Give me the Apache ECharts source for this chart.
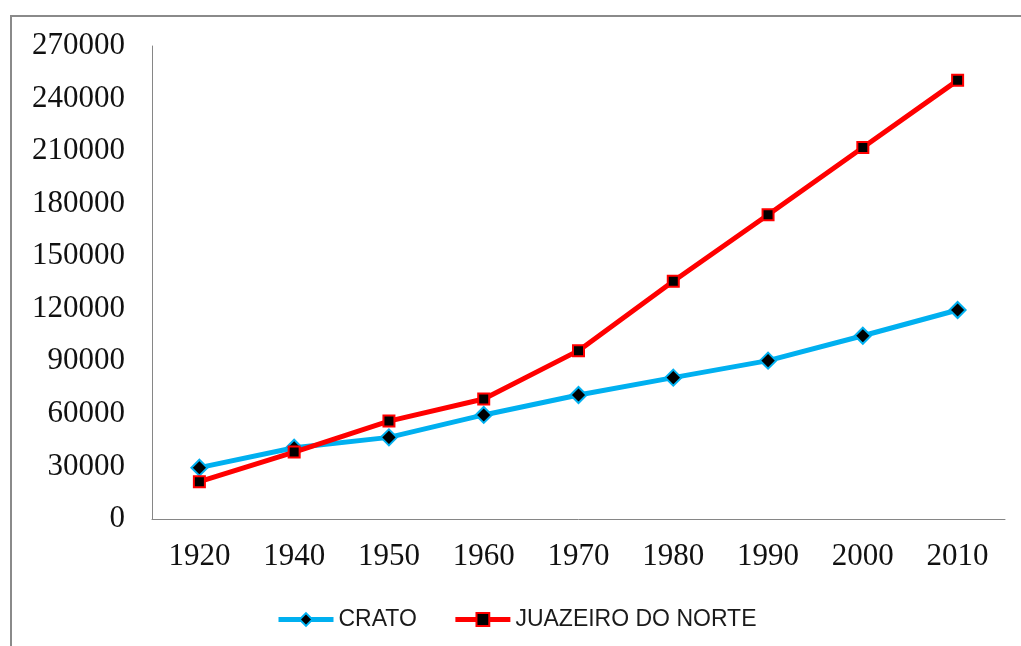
<!DOCTYPE html>
<html><head><meta charset="utf-8">
<script src="https://cdn.jsdelivr.net/npm/echarts@6/dist/echarts.min.js"></script>
<style>html,body{margin:0;padding:0;background:#fff}#c{width:1021px;height:646px}</style>
</head><body><div id="c"></div>
<script>
const categories = ['1920','1940','1950','1960','1970','1980','1990','2000','2010'];
const crato = [29300, 40700, 46600, 59400, 70800, 80700, 90400, 104600, 119300];
const juazeiro = [21300, 38200, 55900, 68500, 96100, 135700, 173700, 212100, 250400];
const seriesNames = ['CRATO', 'JUAZEIRO DO NORTE'];

const chart = echarts.init(document.getElementById('c'), null, {renderer: 'canvas'});
chart.setOption({
  animation: false,
  backgroundColor: '#fff',
  graphic: [{
    type: 'rect', silent: true,
    shape: {x: 11, y: 16, width: 1200, height: 1000},
    style: {fill: 'none', stroke: '#8a8a8a', lineWidth: 2}
  }],
  grid: {left: 152, right: 16, top: 46, bottom: 127, containLabel: false},
  legend: {
    left: 271, top: 603,
    itemWidth: 55, itemHeight: 16, itemGap: 36,
    lineStyle: {width: 5},
    textStyle: {fontFamily: 'Liberation Sans', fontSize: 23, color: '#1a1a1a'},
    data: seriesNames
  },
  xAxis: {
    type: 'category', data: categories, boundaryGap: true,
    axisLine: {lineStyle: {color: '#868686', width: 1}},
    axisTick: {show: false},
    axisLabel: {fontFamily: 'Liberation Serif', fontSize: 31, color: '#111', margin: 22}
  },
  yAxis: {
    type: 'value', min: 0, max: 270000, interval: 30000,
    axisLine: {show: true, lineStyle: {color: '#868686', width: 1}},
    axisTick: {show: false},
    splitLine: {show: false},
    axisLabel: {fontFamily: 'Liberation Serif', fontSize: 31, color: '#111', margin: 27,
      formatter: function (v) { return String(v); }}
  },
  series: [
    {
      name: seriesNames[0], type: 'line', data: crato,
      symbol: 'diamond', symbolSize: 16,
      lineStyle: {color: '#00b0f0', width: 5},
      itemStyle: {color: '#000', borderColor: '#00b0f0', borderWidth: 2},
      z: 2
    },
    {
      name: seriesNames[1], type: 'line', data: juazeiro,
      symbol: 'rect', symbolSize: 11,
      lineStyle: {color: '#ff0000', width: 5},
      itemStyle: {color: '#000', borderColor: '#ff0000', borderWidth: 2},
      z: 3
    }
  ]
});
</script></body></html>
